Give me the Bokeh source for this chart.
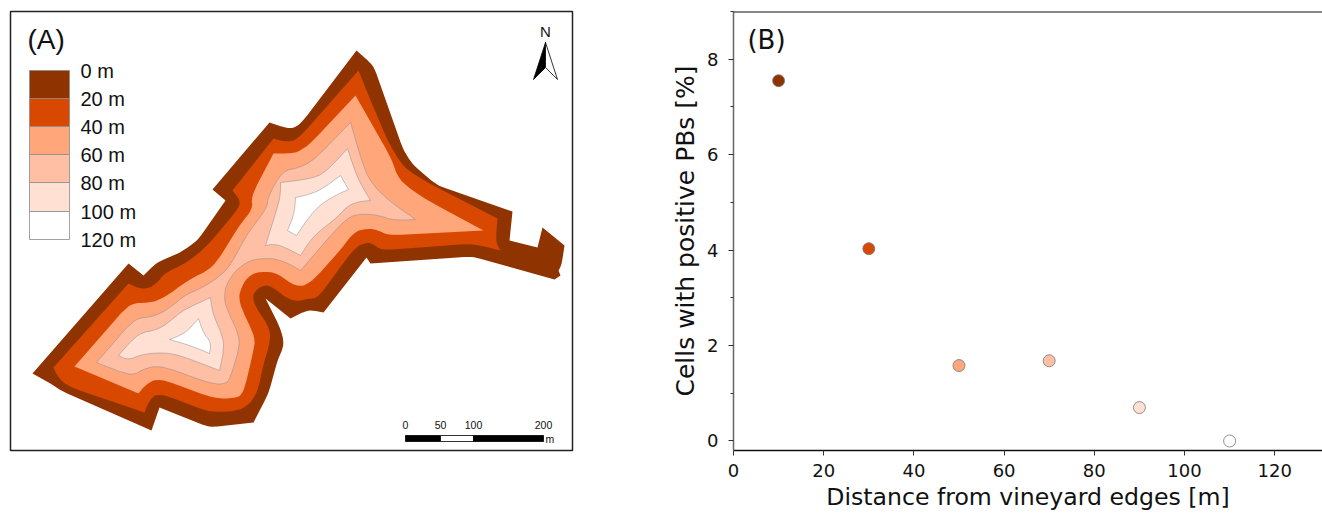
import math
from bokeh.plotting import figure
from bokeh.layouts import row
from bokeh.embed import file_html
from bokeh.resources import INLINE
from bokeh.core.properties import value
from bokeh.models import Range1d, FixedTicker, Span

# ---- panel B data
distance_m = [10, 30, 50, 70, 90, 110]
positive_pct = [7.55, 4.03, 1.58, 1.68, 0.70, 0.0]
band_colors = ["#8F3300", "#D94801", "#FFA67A", "#FFBFA5", "#FFE0D3", "#FFFFFF"]
x_ticks = [0, 20, 40, 60, 80, 100, 120]
y_ticks = [0, 2, 4, 6, 8]
y_minor = [1, 3, 5, 7, 9]

# ---- panel A legend
legend_labels = ["0 m", "20 m", "40 m", "60 m", "80 m", "100 m", "120 m"]
legend_edges = [70, 98, 126, 154, 182, 211, 239]
scale_labels = ["0", "50", "100", "200"]
scale_marks = [405, 440, 473, 543]

# ---- panel A map outlines (map coordinates)
ring0 = [(32,373),(128,263),(143,275),(156,262),(180,252),(197,240),(225,200),(212,189),(269,122),(287,128),
         (295,127),(302,121),(356,50),(373,65),(403,150),(413,165),(437,185),(512,211),(509,240),(537,247),
         (542,227),(564,245),(561,265),(558,270),(560,275),(554,279),(472,256),(370,263),(366,257),(323,312),
         (308,309),(290,318),(265,298),(280,328),(284,344),(277,360),(268,393),(253,422),(209,427),(159,407),
         (151,430),(60,390),(52,384)]
ring1 = [(53,367),(128,283),(143,290),(157,283),(163,273),(187,262),(207,245),(238,208),(240,200),(232,190),
         (273,138),(287,142),(298,138),(358,70),(368,95),(388,142),(403,167),(427,182),(497,218),(495,242),
         (500,250),(472,243),(380,250),(373,243),(363,242),(352,250),(317,298),(308,298),(292,302),(270,285),
         (262,285),(254,291),(252,298),(257,310),(270,328),(269,345),(263,363),(257,393),(243,410),(210,412),(160,393),
         (150,397),(144,412),(70,387),(58,378)]
ring2 = [(74,366),(130,302),(147,303),(163,298),(187,280),(213,267),(240,223),(253,208),(250,197),(273,153),
         (293,153),(300,150),(310,143),(355,95),(392,160),(398,180),(427,200),(483,230),(387,235),(377,229),
         (363,228),(352,233),(342,247),(310,283),(295,287),(278,273),(265,271),(250,273),(240,287),(238,302),
         (255,337),(253,350),(243,393),(235,398),(213,398),(160,378),(147,382),(138,393)]
ring3 = [(96,362),(135,317),(153,317),(173,305),(183,295),(203,287),(227,270),(247,233),(267,207),(267,197),
         (282,170),(297,168),(313,160),(350,122),(362,163),(370,182),(388,200),(415,219),(392,220),(380,215),
         (360,213),(347,217),(332,233),(300,270),(283,260),(263,257),(243,262),(227,280),(223,297),(227,310),
         (241,340),(230,377),(225,384),(210,383),(160,365),(143,368),(132,376)]
ring4a = [(118,355),(138,332),(157,330),(173,318),(182,310),(210,297),(212,313),(225,342),(219,370),(177,354),
          (160,352),(140,354),(128,360)]
ring4b = [(265,245),(280,197),(280,182),(313,178),(327,170),(347,148),(357,178),(370,200),(350,202),(337,217),
          (313,235),(300,255),(277,243)]
ring5a = [(169,339),(185,333),(198,318),(203,333),(211,342),(209,353),(190,345)]
ring5b = [(295,197),(317,192),(340,175),(348,189),(330,197),(313,210),(296,235),(287,230),(294,213)]
north_left = [(545,42),(533,79),(545,67)]
north_right = [(545,42),(557,79),(545,67)]

ARIAL = value("Liberation Sans")
DEJA = "DejaVu Sans"


def soften(ring, max_turn, cut, passes=2):
    """Round the gentle bends of an outline, leaving its sharp tips as they are."""
    for _ in range(passes):
        out = []
        n = len(ring)
        for i, (x, y) in enumerate(ring):
            px, py = ring[i - 1]
            nx, ny = ring[(i + 1) % n]
            a1, a2 = math.atan2(y - py, x - px), math.atan2(ny - y, nx - x)
            turn = abs((a2 - a1 + math.pi) % (2 * math.pi) - math.pi)
            if math.degrees(turn) > max_turn:
                out.append((x, y))
                continue
            d1, d2 = math.hypot(x - px, y - py), math.hypot(nx - x, ny - y)
            c1, c2 = min(cut, d1 * 0.3), min(cut, d2 * 0.3)
            out.append((x - (x - px) * c1 / d1, y - (y - py) * c1 / d1))
            out.append((x + (nx - x) * c2 / d2, y + (ny - y) * c2 / d2))
        ring = out
    return ring


# ---- panel A
a = figure(width=648, height=513, output_backend="svg", toolbar_location=None,
           x_range=Range1d(10, 572), y_range=Range1d(450, 11),
           min_border_left=10, min_border_right=76, min_border_top=11, min_border_bottom=63)
a.axis.visible = False
a.grid.visible = False
a.outline_line_color = "#222222"
a.outline_line_width = 1.5


def poly(ring, color, line="#8A8A8A", lw=0.5, max_turn=60, cut=7):
    r = soften(ring, max_turn, cut)
    a.patch([q[0] for q in r], [q[1] for q in r], fill_color=color, line_color=line, line_width=lw)


poly(ring0, band_colors[0], band_colors[0], 0, max_turn=45, cut=4)
poly(ring1, band_colors[1], band_colors[1], 0, max_turn=55, cut=6)
poly(ring2, band_colors[2], band_colors[2], 0)
poly(ring3, band_colors[3])
poly(ring4a, band_colors[4])
poly(ring4b, band_colors[4])
poly(ring5a, band_colors[5])
poly(ring5b, band_colors[5])

a.quad(left=[29]*6, right=[69]*6, top=legend_edges[:-1], bottom=legend_edges[1:],
       fill_color=band_colors, line_color="#8A8A8A", line_width=0.8)
a.text(x=[80]*7, y=legend_edges, text=legend_labels, text_font=ARIAL,
       text_font_size="20px", text_baseline="middle", text_color="#111111")
a.text(x=[27], y=[39], text=["(A)"], text_font=ARIAL, text_font_size="28px",
       text_baseline="middle", text_color="#111111")

# north arrow
a.text(x=[545], y=[31], text=["N"], text_font=ARIAL, text_font_size="15px",
       text_align="center", text_baseline="middle", text_color="#111111")
a.patch([q[0] for q in north_left], [q[1] for q in north_left], fill_color="black", line_color="black", line_width=0.8)
a.patch([q[0] for q in north_right], [q[1] for q in north_right], fill_color="white", line_color="black", line_width=0.8)

# scale bar
a.quad(left=scale_marks[:-1], right=scale_marks[1:], top=[435]*3, bottom=[441]*3,
       fill_color=["black", "white", "black"], line_color="black", line_width=0.8)
a.text(x=scale_marks, y=[424]*4, text=scale_labels, text_font=ARIAL, text_font_size="10.5px",
       text_align="center", text_baseline="middle", text_color="#111111")
a.text(x=[545], y=[438], text=["m"], text_font=ARIAL, text_font_size="10.5px",
       text_baseline="middle", text_color="#111111")

# ---- panel B
b = figure(width=674, height=513, output_backend="svg", toolbar_location=None,
           x_range=Range1d(0, 130.6), y_range=Range1d(-0.2, 9.0),
           min_border_left=85, min_border_right=0, min_border_top=11, min_border_bottom=62,
           x_axis_label="Distance from vineyard edges [m]",
           y_axis_label="Cells with positive PBs [%]")
b.grid.visible = False
b.outline_line_color = None
b.xaxis.ticker = FixedTicker(ticks=x_ticks)
b.yaxis.ticker = FixedTicker(ticks=y_ticks, minor_ticks=y_minor)
for ax in (b.xaxis[0], b.yaxis[0]):
    ax.major_label_text_font = DEJA
    ax.major_label_text_font_size = "18px"
    ax.major_label_text_color = "#111111"
    ax.axis_label_text_font = DEJA
    ax.axis_label_text_font_style = "normal"
    ax.axis_label_text_color = "#111111"
    ax.major_tick_in = 0
    ax.major_tick_out = 5
    ax.minor_tick_in = 0
    ax.minor_tick_out = 3
    ax.major_tick_line_color = "#333333"
    ax.minor_tick_line_color = "#333333"
b.xaxis[0].axis_label_text_font_size = "23.6px"
b.yaxis[0].axis_label_text_font_size = "25px"
b.xaxis[0].axis_line_color = "#111111"
b.xaxis[0].axis_line_width = 1.5
b.xaxis[0].minor_tick_line_color = None
b.yaxis[0].axis_line_color = "#666666"
b.yaxis[0].axis_line_width = 1.5
b.xaxis[0].major_label_standoff = 8
b.yaxis[0].major_label_standoff = 10
b.xaxis[0].axis_label_standoff = 3
b.yaxis[0].axis_label_standoff = 4
b.add_layout(Span(location=9.0, dimension="width", line_color="#111111", line_width=2))
b.scatter(distance_m, positive_pct, size=12, fill_color=band_colors, line_color="#777777", line_width=0.8)
b.text(x=[3.1], y=[8.4], text=["(B)"], text_font=value(DEJA), text_font_size="26px",
       text_baseline="middle", text_color="#111111")

open("out.html", "w").write(file_html(row(a, b, spacing=0), INLINE))
